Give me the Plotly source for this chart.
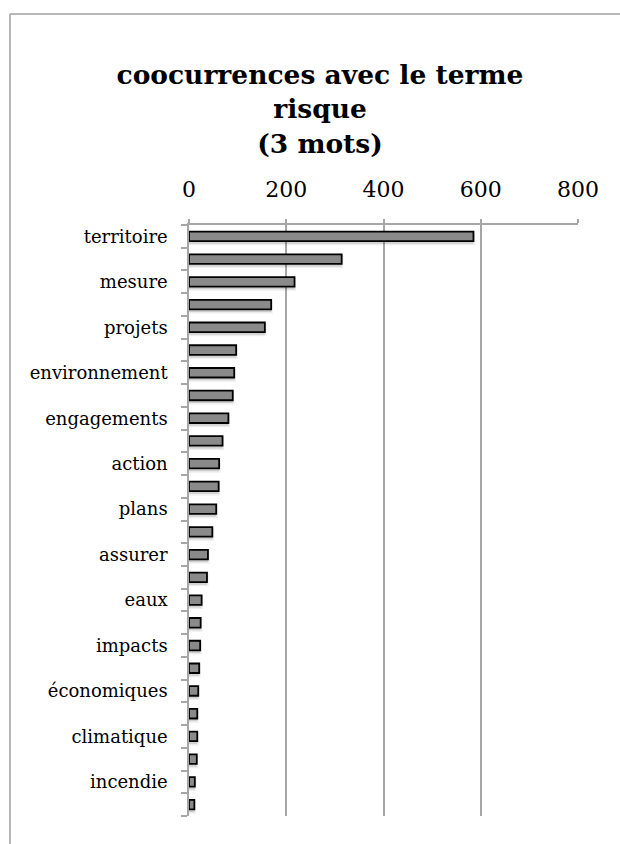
import plotly.graph_objects as go

# ---- data ----
ranks = list(range(1, 27))
values = [585, 314, 217, 169, 156, 97, 93, 90, 81, 69,
          62, 61, 56, 48, 39, 37, 26, 24, 23, 21,
          19, 17, 17, 16, 12, 11]
label_ranks = [1, 3, 5, 7, 9, 11, 13, 15, 17, 19, 21, 23, 25]
labels = ["territoire", "mesure", "projets", "environnement", "engagements",
          "action", "plans", "assurer", "eaux", "impacts", "économiques",
          "climatique", "incendie"]
x_ticks = [0, 200, 400, 600, 800]
title_text = "coocurrences avec le terme<br>risque<br>(3 mots)"

boundaries = [r + 0.5 for r in range(0, 27)]

fig = go.Figure()
# soft drop shadow under each bar
fig.add_trace(go.Bar(
    x=values, y=ranks, orientation="h", width=0.42, offset=-0.21 + 0.12,
    marker=dict(color="rgba(0,0,0,0.13)", line=dict(color="rgba(0,0,0,0.07)", width=3)),
    hoverinfo="skip",
))
fig.add_trace(go.Bar(
    x=values, y=ranks, orientation="h", width=0.42,
    marker=dict(color="#8a8a8a", line=dict(color="#000000", width=1.8)),
    hoverinfo="skip",
))

L, R, T, B = 189, 578, 225, 816
W, H = 620, 844

fig.update_layout(
    width=W, height=H, barmode="overlay",
    margin=dict(l=L, r=W - R, t=T, b=H - B, pad=0),
    paper_bgcolor="white", plot_bgcolor="white",
    showlegend=False,
    title=dict(text=title_text, x=(10 + 630) / 2 / W, xanchor="center",
               y=1 - 84 / H, yanchor="top",
               font=dict(family="DejaVu Serif", size=26.5, color="black", weight="bold")),
    font=dict(family="DejaVu Serif", color="black"),
)

fig.update_xaxes(
    side="top", range=[0, 800], tickvals=x_ticks,
    tickfont=dict(family="DejaVu Serif", size=22, color="black"),
    showgrid=True, gridcolor="#a6a6a6", gridwidth=1.5,
    showline=True, linecolor="#a6a6a6", linewidth=1.5,
    ticks="outside", ticklen=4, tickcolor="#a6a6a6", tickwidth=1.5,
    ticklabelstandoff=13, zeroline=False, fixedrange=True,
)

fig.update_yaxes(
    range=[26.5, 0.5], tickmode="array", tickvals=label_ranks, ticktext=labels,
    tickfont=dict(family="DejaVu Serif", size=18, color="black"),
    showgrid=False, zeroline=False,
    showline=True, linecolor="#a6a6a6", linewidth=1.5,
    ticks="outside", ticklen=6, tickcolor="rgba(0,0,0,0)",
    ticklabelstandoff=10,
    minor=dict(tickmode="array", tickvals=boundaries, ticks="outside",
               ticklen=6, tickcolor="#a6a6a6", tickwidth=1.5, showgrid=False),
    fixedrange=True,
)

# outer chart frame (left and top edges)
px2x = lambda px: (px - L) / (R - L)
py2y = lambda py: (B - py) / (B - T)
fig.add_shape(type="line", xref="paper", yref="paper",
              x0=px2x(10), x1=px2x(10), y0=py2y(14), y1=py2y(860),
              line=dict(color="#a0a0a0", width=1.5))
fig.add_shape(type="line", xref="paper", yref="paper",
              x0=px2x(10), x1=px2x(640), y0=py2y(14), y1=py2y(14),
              line=dict(color="#a0a0a0", width=1.5))

fig.write_html("out.html", config={"displayModeBar": False},
               post_script="document.body.style.margin='0';document.body.style.overflow='hidden';")
